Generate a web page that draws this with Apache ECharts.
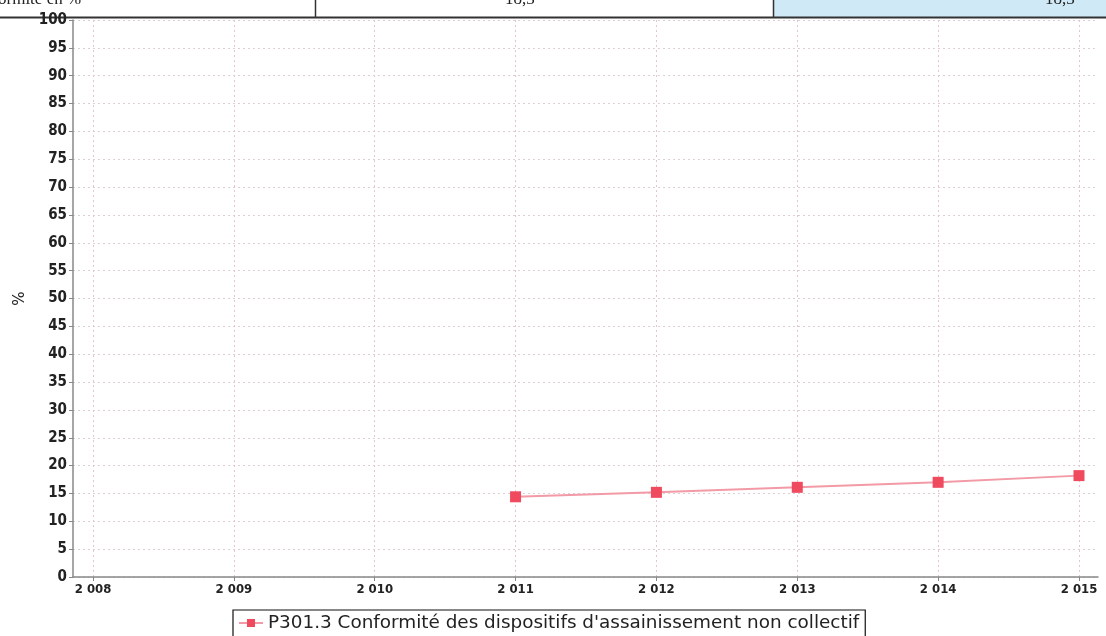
<!DOCTYPE html>
<html>
<head>
<meta charset="utf-8">
<script src="https://cdn.jsdelivr.net/npm/echarts@6/dist/echarts.min.js"></script>
<style>
html,body{margin:0;padding:0;background:#fff;}
#c{width:1106px;height:636px;}
</style>
</head>
<body>
<div id="c"></div>
<script>
const years = [2008, 2009, 2010, 2011, 2012, 2013, 2014, 2015];
const dataYears = [2011, 2012, 2013, 2014, 2015];
const values = [14.4, 15.2, 16.1, 17.0, 18.2];
const seriesName = "P301.3 Conformité des dispositifs d'assainissement non collectif";
const yAxisName = "%";

const fmtYear = v => { const s = String(Math.round(v)); return s.slice(0,1) + ' ' + s.slice(1); };

const chart = echarts.init(document.getElementById('c'), null, {renderer:'canvas'});
const gridColor = '#e8c2d6';
const labelFont = 'DejaVu Sans Condensed';
chart.setOption({
  backgroundColor: '#ffffff',
  animation: false,
  graphic: [
    {type:'rect', shape:{x:773,y:0,width:340,height:17}, style:{fill:'#cfe9f6'}},
    {type:'line', shape:{x1:0,y1:17.5,x2:1106,y2:17.5}, style:{stroke:'#333',lineWidth:2}},
    {type:'line', shape:{x1:315.5,y1:0,x2:315.5,y2:17}, style:{stroke:'#333',lineWidth:1.5}},
    {type:'line', shape:{x1:773.5,y1:0,x2:773.5,y2:17}, style:{stroke:'#333',lineWidth:1.5}},
    {type:'text', x:-2, y:-9, style:{text:'ormité en %', font:'17px "Liberation Serif"', fill:'#222'}},
    {type:'text', x:505, y:-9, style:{text:'18,3', font:'17px "Liberation Serif"', fill:'#222'}},
    {type:'text', x:1045, y:-9, style:{text:'18,3', font:'17px "Liberation Serif"', fill:'#222'}}
  ],
  grid: {left:73, right:8, top:20, bottom:59, containLabel:false},
  legend: {
    top: 610, left: 233,
    itemWidth: 24, itemHeight: 10, itemGap: 4,
    borderColor:'#111', borderWidth:1.2, padding:[4,6,5,5],
    textStyle:{fontFamily:'DejaVu Sans', fontSize:18.4, color:'#222'},
    data:[seriesName]
  },
  xAxis: {
    type:'value', min:2007.858, max:2015.135,
    axisLine:{show:true, onZero:false, lineStyle:{color:'#888', width:1.5}},
    axisTick:{show:true, length:4, customValues: years, lineStyle:{color:'#888'}},
    axisLabel:{customValues: years, formatter: fmtYear, color:'#222', fontFamily:labelFont, fontWeight:'bold', fontSize:13, margin:6},
    splitLine:{show:true, lineStyle:{color:gridColor, type:[2,3], width:1}}
  },
  yAxis: {
    type:'value', min:0, max:100, interval:5,
    name: yAxisName, nameLocation:'middle', nameGap:45, nameRotate:90, nameMoveOverlap:false,
    nameTextStyle:{fontFamily:'DejaVu Sans', fontSize:15, color:'#222'},
    axisLine:{show:true, lineStyle:{color:'#888', width:1.5}},
    axisTick:{show:true, length:4, inside:false, lineStyle:{color:'#888'}},
    axisLabel:{color:'#222', fontFamily:labelFont, fontWeight:'bold', fontSize:15, margin:6},
    splitLine:{show:true, lineStyle:{color:'#ddcfd8', type:[2,3], width:1}}
  },
  series: [{
    name: seriesName, type:'line',
    data: dataYears.map((y,i)=>[y, values[i]]),
    symbol:'rect', symbolSize:11,
    lineStyle:{color:'#f29aa6', width:2},
    itemStyle:{color:'#f04a5e'}
  }]
});
</script>
</body>
</html>
